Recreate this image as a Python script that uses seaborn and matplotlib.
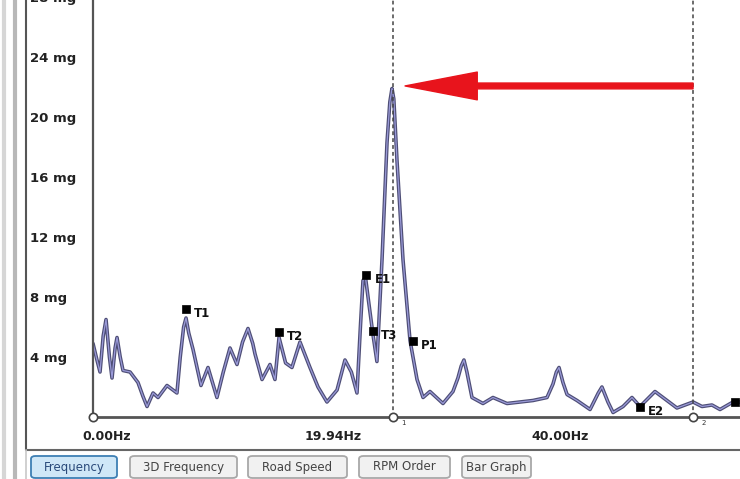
import numpy as np
import pandas as pd
import seaborn as sns
import matplotlib.pyplot as plt
import matplotlib.transforms as mtransforms
from matplotlib.lines import Line2D
from matplotlib.patches import FancyBboxPatch, FancyArrowPatch

# spectrum trace
freq_hz = [0.00, 0.35, 0.62, 0.90, 1.15, 1.45, 1.68, 1.95, 2.12, 2.40, 2.65, 3.27, 3.97,
           4.40, 4.77, 5.30, 5.74, 6.53, 7.41, 7.70, 8.00, 8.21, 8.45, 8.83, 9.53, 10.15,
           10.94, 11.50, 12.09, 12.71, 13.20, 13.68, 14.10, 14.30, 14.92, 15.62, 16.06,
           16.42, 17.00, 17.56, 18.27, 19.15, 19.86, 20.65, 21.54, 22.24, 22.80, 23.30,
           23.60, 23.83, 24.05, 24.36, 24.71, 25.06, 25.51, 25.95, 26.20, 26.39, 26.55,
           26.83, 27.36, 27.98, 28.60, 29.13, 29.74, 30.89, 31.77, 32.21, 32.50, 32.74,
           33.00, 33.45, 34.42, 35.30, 36.54, 37.69, 38.83, 40.07, 40.60, 40.90, 41.13,
           41.48, 41.84, 42.72, 43.87, 44.60, 44.92, 45.45, 45.90, 46.78, 47.57, 48.28,
           49.60, 50.66, 51.54, 52.96, 53.75, 54.63, 55.34, 56.49, 57.10]
amp_mg = [4.9, 3.8, 3.0, 5.4, 6.5, 4.0, 2.6, 4.6, 5.3, 4.0, 3.1, 3.0, 2.3,
          1.4, 0.7, 1.6, 1.3, 2.1, 1.6, 4.0, 6.0, 6.6, 5.6, 4.5, 2.1, 3.3,
          1.3, 3.0, 4.6, 3.5, 5.0, 5.9, 4.9, 4.2, 2.5, 3.5, 2.5,
          5.3, 3.6, 3.3, 5.0, 3.3, 2.0, 1.0, 1.8, 3.8, 3.0, 1.6,
          6.0, 9.1, 9.3, 7.5, 5.5, 3.7, 10.5, 18.3, 21.0, 21.9, 21.2,
          17.1, 10.5, 5.1, 2.5, 1.3, 1.7, 0.9, 1.7, 2.6, 3.4, 3.8,
          3.0, 1.3, 0.9, 1.3, 0.9, 1.0, 1.1, 1.3, 2.2, 3.0, 3.3,
          2.3, 1.5, 1.1, 0.5, 1.6, 2.0, 1.0, 0.3, 0.7, 1.3, 0.7,
          1.7, 1.1, 0.6, 1.0, 0.7, 0.8, 0.5, 1.0, 1.0]

# peak markers
peak_names = ["T1", "T2", "E1", "T3", "P1", "E2", ""]
peak_hz = [8.21, 16.42, 24.10, 24.71, 28.24, 48.28, 56.66]
peak_mg = [7.2, 5.67, 9.47, 5.73, 5.07, 0.67, 1.0]

cursor_hz = [26.48, 52.96]
cursor_names = ["1", "2"]

ytick_mg = [4, 8, 12, 16, 20, 24, 28]
xtick_hz = [0.0, 19.94, 40.0]
xtick_labels = ["0.00Hz", "19.94Hz", "40.00Hz"]

arrow_tail = (52.96, 22.07)
arrow_tip = (27.54, 22.07)

buttons = ["Frequency", "3D Frequency", "Road Speed", "RPM Order", "Bar Graph"]
button_px = [(31, 117), (130, 237), (248, 347), (359, 450), (462, 531)]

spec = pd.DataFrame({"freq": freq_hz, "amp": amp_mg})
peaks = pd.DataFrame({"freq": peak_hz, "amp": peak_mg, "name": peak_names})

sns.set_style("white")
plt.rcParams["font.family"] = ["DejaVu Sans"]

W, H = 740, 479
fig = plt.figure(figsize=(7.4, 4.79), dpi=100)


def fx(px):
    return px / W


def fy(py):
    return 1 - py / H


# plot area: 0 Hz at x=93px, 11.33 px per Hz; 0 mg at y=417px, 15 px per mg
x_max, y_max = 60, 30
ax = fig.add_axes([fx(93), fy(417), x_max * 11.33 / W, y_max * 15 / H])
ax.set_xlim(0, x_max)
ax.set_ylim(0, y_max)

sns.lineplot(data=spec, x="freq", y="amp", ax=ax, color="#4e4e76", lw=2.6)
sns.lineplot(data=spec, x="freq", y="amp", ax=ax, color="#9a9ad8", lw=0.9)

# cursors
for c in cursor_hz:
    ax.axvline(c, color="#444444", lw=1.1, ls=(0, (2.5, 2)))
ax.plot([0] + cursor_hz, [0] * 3, "o", ms=6, mfc="white", mec="#444444", mew=1.2,
        clip_on=False, zorder=5)
for c, n in zip(cursor_hz, cursor_names):
    ax.annotate(n, (c, 0), xytext=(6, -6), textcoords="offset points",
                fontsize=5, color="#333333", annotation_clip=False)

sns.scatterplot(data=peaks, x="freq", y="amp", ax=ax, marker="s", s=38, color="black",
                edgecolor="black", zorder=6, clip_on=False)
for _, r in peaks.iterrows():
    ax.annotate(r["name"], (r["freq"], r["amp"]), xytext=(6, -3), textcoords="offset points",
                fontsize=8.5, fontweight="bold", color="#111111", va="center")

arrow = FancyArrowPatch(arrow_tail, arrow_tip,
                        arrowstyle="simple,head_length=5.2,head_width=2.0,tail_width=0.42",
                        mutation_scale=10, color="#e8141c", shrinkA=0, shrinkB=0, zorder=7)
ax.add_patch(arrow)

ax.set_yticks(ytick_mg)
ax.set_yticklabels([f"{v} mg" for v in ytick_mg], fontsize=9.5, fontweight="bold", color="#222222")
for lab in ax.get_yticklabels():
    lab.set_horizontalalignment("left")
ax.tick_params(axis="y", length=0, pad=45)

ax.set_xticks(xtick_hz)
ax.set_xticklabels(xtick_labels, fontsize=9, fontweight="bold", color="#222222")
ax.tick_params(axis="x", length=0, pad=9)
shift = mtransforms.ScaledTranslation(0.14, 0, fig.dpi_scale_trans)
for lab in ax.get_xticklabels():
    lab.set_transform(lab.get_transform() + shift)

ax.set_xlabel("")
ax.set_ylabel("")
for s in ["top", "right"]:
    ax.spines[s].set_visible(False)
ax.spines["left"].set_color("#555555")
ax.spines["left"].set_linewidth(1.6)
ax.spines["bottom"].set_color("#555555")
ax.spines["bottom"].set_linewidth(2.0)

# window frame
fig.add_artist(Line2D([fx(4), fx(4)], [fy(0), fy(479)], color="#d6d6d6", lw=3))
fig.add_artist(Line2D([fx(15), fx(15)], [fy(0), fy(479)], color="#b8b8b8", lw=3))
fig.add_artist(Line2D([fx(26), fx(26)], [fy(0), fy(450)], color="#555555", lw=1.5))
fig.add_artist(Line2D([fx(26), fx(740)], [fy(450), fy(450)], color="#666666", lw=1.5))
fig.add_artist(Line2D([fx(26), fx(26)], [fy(450), fy(479)], color="#c8c8c8", lw=1.2))

for name, (x0, x1) in zip(buttons, button_px):
    active = name == "Frequency"
    box = FancyBboxPatch((fx(x0), fy(478)), fx(x1 - x0), 22 / H,
                         boxstyle="round,pad=0,rounding_size=0.006",
                         transform=fig.transFigure,
                         fc="#cfe7f7" if active else "#f1f1f1",
                         ec="#3d7fb4" if active else "#a8a8a8", lw=1.3)
    fig.add_artist(box)
    fig.text(fx((x0 + x1) / 2), fy(467), name, ha="center", va="center",
             fontsize=8.5, color="#2a4a7a" if active else "#444444")

fig.savefig("out.png", dpi=100)
